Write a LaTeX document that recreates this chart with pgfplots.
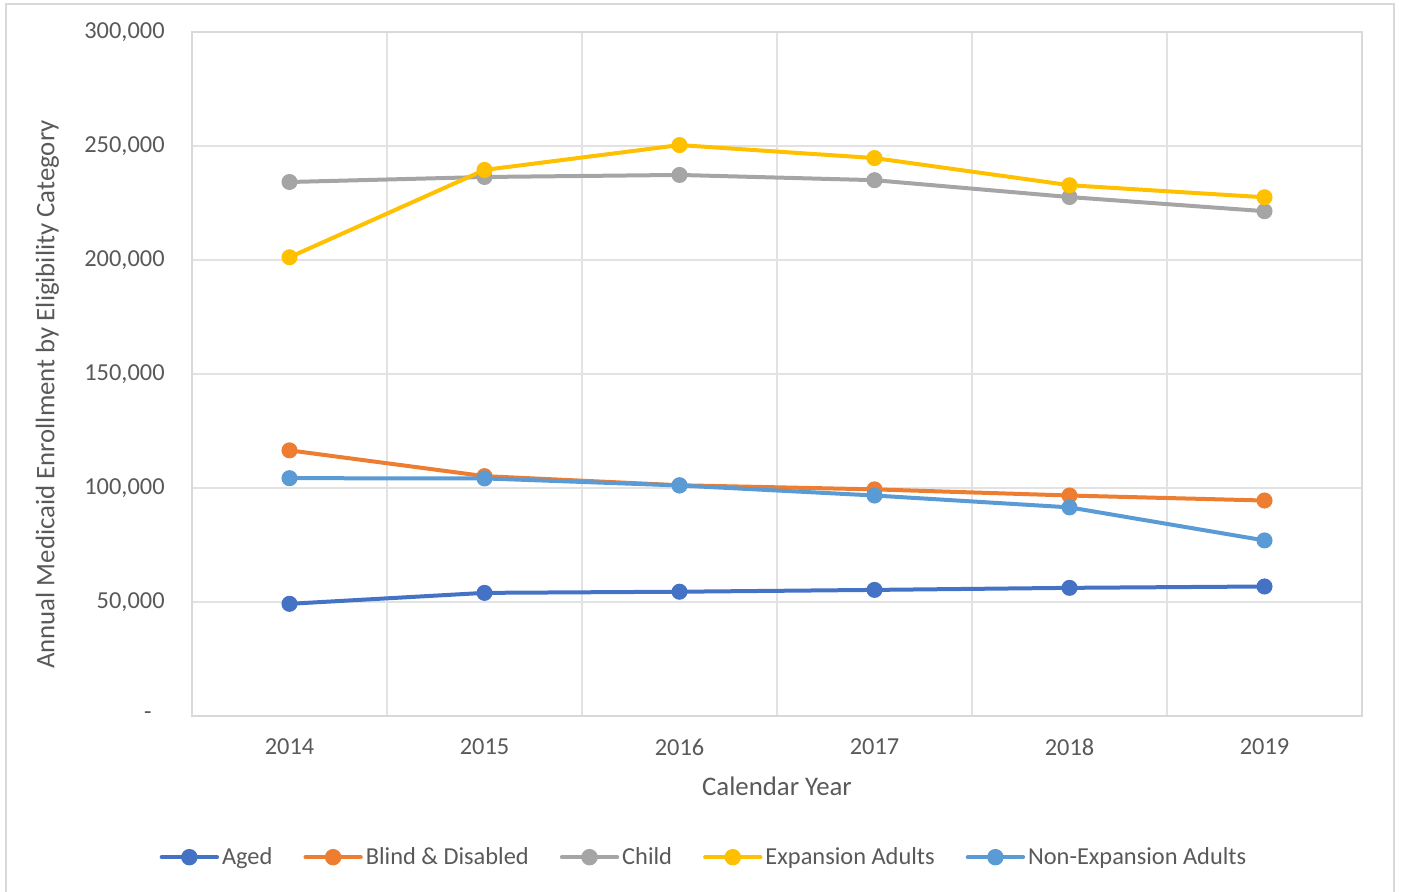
\documentclass[border=0pt]{standalone}
\usepackage{fontspec}
\setmainfont{Carlito}
\usepackage{pgfplots}
\pgfplotsset{compat=1.18}
\definecolor{cAged}{HTML}{4472C4}
\definecolor{cBlind}{HTML}{ED7D31}
\definecolor{cChild}{HTML}{A5A5A5}
\definecolor{cExp}{HTML}{FFC000}
\definecolor{cNon}{HTML}{5B9BD5}
\definecolor{gridc}{HTML}{E2E2E2}
\definecolor{axc}{HTML}{D9D9D9}
\definecolor{txt}{HTML}{595959}
\begin{document}
\begin{tikzpicture}
\useasboundingbox (0pt,0pt) rectangle (700.5pt,446pt);
\draw[axc,line width=1pt] (3pt,-5pt) -- (3pt,444pt) -- (697pt,444pt) -- (697pt,-5pt);
\begin{axis}[
  at={(96pt,88pt)}, anchor=origin,
  scale only axis, width=585pt, height=342pt,
  xmin=2013.5, xmax=2019.5, ymin=0, ymax=300000,
  scaled y ticks=false,
  xtick={2013.5,2014.5,2015.5,2016.5,2017.5,2018.5,2019.5},
  xticklabels={},
  extra x ticks={2014,2015,2016,2017,2018,2019},
  extra x tick labels={2014,2015,2016,2017,2018,2019},
  extra x tick style={grid=none},
  ytick={0,50000,100000,150000,200000,250000,300000},
  yticklabels={{-\hspace*{6.5pt}},{50,000},{100,000},{150,000},{200,000},{250,000},{300,000}},
  major tick length=0pt, minor tick length=0pt,
  grid=major,
  grid style={gridc, line width=1pt},
  axis line style={axc, line width=1pt},
  tick label style={font=\fontsize{12.2}{14}\selectfont, text=txt},
  xticklabel style={anchor=center, yshift=-15.5pt, inner sep=0pt},
  yticklabel style={anchor=east, xshift=-13.5pt, inner sep=0pt},
  xlabel={Calendar Year},
  ylabel={Annual Medicaid Enrollment by Eligibility Category},
  label style={font=\fontsize{13.4}{15}\selectfont, text=txt},
  xlabel style={at={(axis description cs:0.5,-0.1025)}, anchor=center},
  ylabel style={at={(axis description cs:-0.1237,0.470)}, anchor=center},
  legend columns=5,
  legend style={draw=none, fill=none, at={(axis description cs:0.438,-0.2064)}, anchor=center,
    font=\fontsize{12.2}{14}\selectfont, text=txt,
    /tikz/every even column/.append style={column sep=14pt},
    nodes={inner xsep=1.5pt}},
  legend image code/.code={\draw[mark repeat=2,mark phase=2,#1,line width=2.2pt,line cap=round] plot coordinates {(0pt,0pt) (13.75pt,0pt) (27.5pt,0pt)};},
  every axis plot/.append style={line width=2pt, mark=*, mark size=3pt},
  clip=false,
]
\addplot[cAged, mark options={fill=cAged}] coordinates {(2014,49200) (2015,54000) (2016,54500) (2017,55300) (2018,56200) (2019,56800)};
\addlegendentry{Aged}
\addplot[cBlind, mark options={fill=cBlind}] coordinates {(2014,116500) (2015,105200) (2016,101200) (2017,99400) (2018,96700) (2019,94500)};
\addlegendentry{Blind \& Disabled}
\addplot[cChild, mark options={fill=cChild}] coordinates {(2014,234200) (2015,236400) (2016,237300) (2017,235000) (2018,227600) (2019,221400)};
\addlegendentry{Child}
\addplot[cExp, mark options={fill=cExp}] coordinates {(2014,201200) (2015,239500) (2016,250400) (2017,244700) (2018,232800) (2019,227500)};
\addlegendentry{Expansion Adults}
\addplot[cNon, mark options={fill=cNon}] coordinates {(2014,104300) (2015,104200) (2016,101100) (2017,96700) (2018,91500) (2019,77000)};
\addlegendentry{Non-Expansion Adults}
\end{axis}
\end{tikzpicture}
\end{document}
